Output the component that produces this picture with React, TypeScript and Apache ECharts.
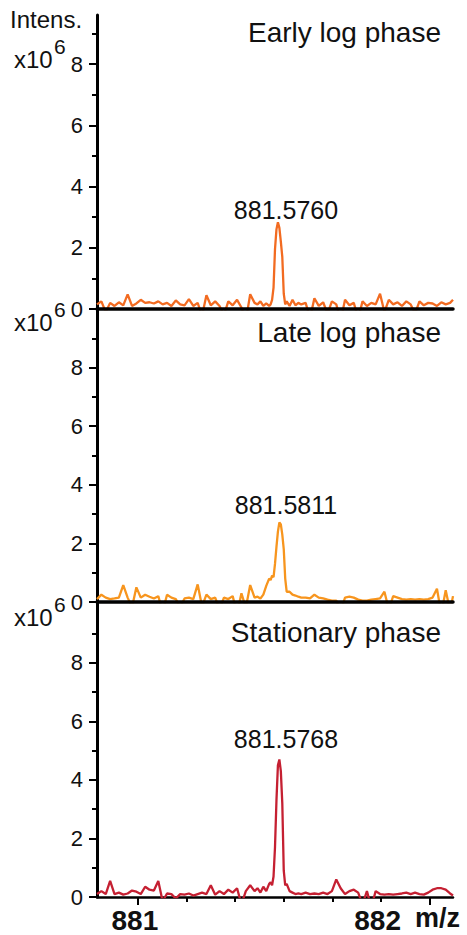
import React, { useEffect, useRef } from "react";
import * as echarts from "echarts";

// m/z sampling points (shared by the three spectra)
const mz = [
  880.860, 880.875, 880.890, 880.905, 880.920, 880.935, 880.950, 880.965, 880.980, 880.995,
  881.010, 881.025, 881.040, 881.055, 881.070, 881.085, 881.100, 881.115, 881.130, 881.145,
  881.160, 881.175, 881.190, 881.205, 881.220, 881.235, 881.250, 881.265, 881.280, 881.295,
  881.310, 881.325, 881.340, 881.355, 881.370, 881.385,
  881.400, 881.410, 881.420, 881.430, 881.440, 881.450, 881.455, 881.460, 881.465, 881.470,
  881.475, 881.480, 881.485, 881.490, 881.495, 881.500, 881.505, 881.510, 881.520, 881.530,
  881.540, 881.550, 881.560,
  881.575, 881.590, 881.605, 881.620, 881.635, 881.650, 881.665, 881.680, 881.695, 881.710,
  881.725, 881.740, 881.755, 881.770, 881.785, 881.800, 881.815, 881.830, 881.845, 881.860,
  881.875, 881.890, 881.905, 881.920, 881.935, 881.950, 881.965, 881.980, 881.995, 882.010,
  882.025, 882.040, 882.055, 882.070, 882.080,
];

// Intensities (x10^6)
const earlyLog = [
  0.15, 0.25, -0.1, 0.2, 0.1, 0.22, 0.12, 0.48, 0.1, 0.18,
  0.3, 0.2, 0.22, 0.18, 0.25, 0.15, 0.2, 0.1, 0.28, 0.15,
  0.12, 0.32, 0.1, 0.2, -0.22, 0.45, 0.12, 0.25, 0.1, -0.2,
  0.25, 0.12, 0.3, 0.05, -0.38, 0.48,
  0.2, 0.15, 0.25, 0.1, 0.18, 0.1, 0.15, 0.3, 0.7, 1.95,
  2.6, 2.83, 2.65, 2.2, 1.7, 0.5, 0.15, 0.25, 0.1, 0.3,
  0.12, 0.2, 0.15,
  0.2, -0.3, 0.35, 0.1, 0.22, -0.15, 0.25, 0.15, -0.38, 0.3,
  0.12, 0.2, -0.3, 0.25, 0.1, 0.2, 0.15, 0.5, -0.1, 0.3,
  0.15, 0.22, 0.1, 0.25, 0.15, -0.15, 0.25, 0.12, 0.2, 0.18,
  0.1, 0.22, 0.15, 0.2, 0.3,
];

const lateLog = [
  0.1, 0.25, 0.15, 0.1, 0.12, 0.15, 0.58, 0.15, -0.18, 0.5,
  0.15, 0.25, 0.18, 0.12, 0.2, -0.33, 0.25, 0.15, 0.1, -0.18,
  0.12, 0.15, 0.1, 0.6, -0.15, 0.25, 0.1, 0.15, -0.25, 0.15,
  0.1, 0.2, -0.4, 0.3, -0.2, 0.58,
  0.15, 0.18, 0.12, 0.25, 0.55, 0.8, 0.75, 0.9, 0.85, 1.3,
  1.88, 2.4, 2.72, 2.65, 2.3, 1.8, 0.8, 0.35, 0.35, 0.25,
  0.22, 0.18, 0.15,
  0.15, 0.12, 0.25, 0.15, 0.12, 0.08, 0.05, 0.05, -0.3, 0.15,
  0.18, 0.15, 0.08, 0.05, 0.05, 0.08, 0.1, 0.12, 0.35, -0.25,
  0.2, 0.15, 0.1, 0.08, 0.1, 0.08, 0.1, 0.08, 0.1, 0.15,
  0.45, -0.4, 0.4, -0.3, 0.2,
];

const stationary = [
  0.1, 0.2, 0.1, 0.55, 0.1, 0.15, 0.08, 0.12, 0.22, 0.18,
  0.1, 0.35, 0.25, 0.22, 0.55, -0.15, 0.12, 0.1, -0.05, 0.1,
  0.08, 0.12, 0.05, 0.1, 0.15, 0.1, 0.4, 0.08, 0.2, 0.1,
  0.25, 0.15, 0.3, -0.25, 0.2, 0.4,
  0.2, 0.3, 0.15, 0.35, 0.2, 0.45, 0.5, 0.4, 0.7, 1.7,
  3.3, 4.5, 4.7, 4.3, 3.2, 0.9, 0.4, 0.45, 0.2, 0.15,
  0.1, 0.12, 0.1,
  0.15, 0.1, 0.12, 0.1, 0.15, 0.1, 0.2, 0.6, 0.3, 0.1,
  0.2, 0.25, 0.15, -0.25, 0.2, -0.35, 0.2, 0.1, 0.08, 0.1,
  0.08, 0.1, 0.12, 0.15, 0.1, 0.15, 0.1, 0.08, 0.15, 0.25,
  0.3, 0.3, 0.25, 0.12, 0.05,
];

const panelTitles = ["Early log phase", "Late log phase", "Stationary phase"];
const peakLabels = ["881.5760", "881.5811", "881.5768"];
const yTickValues = [0, 2, 4, 6, 8];
const yMinorValues = [1, 3, 5, 7, 9];
const xTickValues = [881, 882];
const xMinorValues = [881.1667, 881.3333, 881.5, 881.6667, 881.8333];
const xMin = 880.86;
const xMax = 882.08;
const yMaxes = [9.6, 10, 10.08];

const seriesValues = [earlyLog, lateLog, stationary];
const colors = ["#F26B21", "#F7951E", "#C52032"];

const FONT = '"Liberation Sans", Arial, Helvetica, sans-serif';

const gridTops = [15, 309, 602];
const gridHeights = [294, 293, 295];
const titleY = [32, 332, 632];
const peakY = [210, 505, 739];
const expY = [59, 322, 617];
const supY = [46, 309, 604];

function txt(text: string, x: number, y: number, size: number, align: string, opts: any = {}) {
  return {
    type: "text",
    x,
    y,
    z: 100,
    style: {
      text,
      fill: "#111",
      font: `${opts.bold ? "bold " : ""}${size}px ${FONT}`,
      textAlign: align,
      textVerticalAlign: "middle",
      align,
      verticalAlign: "middle",
    },
  };
}

export default function App() {
  const ref = useRef<HTMLDivElement>(null);
  useEffect(() => {
    if (!ref.current) return;
    const chart = echarts.init(ref.current, undefined, { renderer: "svg" });

    const grids = [0, 1, 2].map((i) => ({
      left: 97,
      top: gridTops[i],
      width: 356,
      height: gridHeights[i],
      containLabel: false,
      outerBoundsMode: "none",
    }));

    const xAxes: any[] = [0, 1, 2].map((i) => ({
      type: "value",
      gridIndex: i,
      position: "bottom",
      min: xMin,
      max: xMax,
      z: i < 2 ? 5 : 0,
      axisLine: { show: true, onZero: false, lineStyle: { color: "#000", width: i < 2 ? 3.5 : 2.5 } },
      axisTick: {
        show: i === 2,
        customValues: xTickValues,
        length: 8,
        lineStyle: { color: "#000", width: 2 },
      },
      axisLabel: {
        show: i === 2,
        customValues: xTickValues,
        margin: 12,
        formatter: (v: number) => (Math.round(v) === 882 ? `{r|${Math.round(v)}}` : `{l|${Math.round(v)}}`),
        rich: {
          l: { fontSize: 28, fontWeight: "bold", fontFamily: FONT, color: "#111", lineHeight: 23, padding: [0, 6, 0, 0] },
          r: { fontSize: 28, fontWeight: "bold", fontFamily: FONT, color: "#111", lineHeight: 23, padding: [0, 104, 0, 0] },
        },
      },
      splitLine: { show: false },
    }));
    xAxes.push({
      type: "value",
      gridIndex: 2,
      position: "bottom",
      min: xMin,
      max: xMax,
      axisLine: { show: false },
      axisTick: { show: true, customValues: xMinorValues, length: 5, lineStyle: { color: "#000", width: 2 } },
      axisLabel: { show: false },
      splitLine: { show: false },
    });

    const yAxes: any[] = [0, 1, 2].map((i) => ({
      type: "value",
      gridIndex: i,
      position: "left",
      min: 0,
      max: yMaxes[i],
      axisLine: { show: true, onZero: false, lineStyle: { color: "#000", width: 3 } },
      axisTick: { show: true, customValues: yTickValues, length: 8, lineStyle: { color: "#000", width: 2 } },
      axisLabel: {
        show: true,
        customValues: yTickValues,
        margin: 14,
        fontSize: 22,
        fontFamily: FONT,
        color: "#111",
      },
      splitLine: { show: false },
    }));
    [0, 1, 2].forEach((i) =>
      yAxes.push({
        type: "value",
        gridIndex: i,
        position: "left",
        min: 0,
        max: yMaxes[i],
        axisLine: { show: false },
        axisTick: { show: true, customValues: yMinorValues, length: 5, lineStyle: { color: "#000", width: 2 } },
        axisLabel: { show: false },
        splitLine: { show: false },
      })
    );

    const series = seriesValues.map((vals, i) => ({
      type: "line",
      name: panelTitles[i],
      xAxisIndex: i,
      yAxisIndex: i,
      data: mz.map((m, k) => [m, vals[k]]),
      showSymbol: false,
      symbol: "none",
      lineStyle: { color: colors[i], width: 2.3 },
      itemStyle: { color: colors[i] },
      z: 2,
    }));

    const graphics: any[] = [txt("Intens.", 10, 19, 24, "left")];
    [0, 1, 2].forEach((i) => {
      graphics.push(txt("x10", 14, expY[i], 24, "left"));
      graphics.push(txt("6", 54, supY[i], 21, "left"));
      graphics.push(txt(panelTitles[i], 441, titleY[i], 28, "right"));
      graphics.push(txt(peakLabels[i], 286, peakY[i], 25, "center"));
    });
    graphics.push(txt("m/z", 415, 918, 27, "left", { bold: true }));

    chart.setOption({
      animation: false,
      textStyle: { fontFamily: FONT },
      grid: grids,
      xAxis: xAxes,
      yAxis: yAxes,
      series,
      graphic: graphics,
    });
    return () => chart.dispose();
  }, []);

  return (
    <div
      ref={ref}
      style={{ position: "fixed", left: 0, top: 0, width: 467, height: 935, background: "#fff" }}
    />
  );
}
